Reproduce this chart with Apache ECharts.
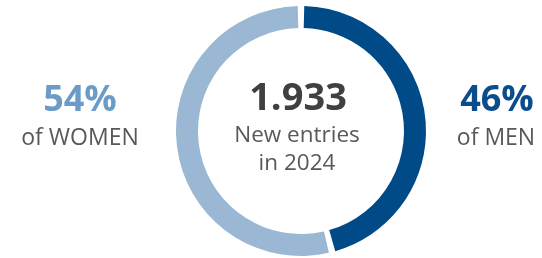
<!DOCTYPE html>
<html lang="en">
<head>
    <meta charset="UTF-8">
    <title>New entries 2024</title>
    <script src="https://cdn.jsdelivr.net/npm/echarts@6/dist/echarts.min.js"></script>
    <style>
        html, body { margin: 0; padding: 0; background: #fff; }
    </style>
</head>
<body>
<div id="main" style="width:542px;height:258px;"></div>
<script type="text/javascript">
    var groups = ['MEN', 'WOMEN'];
    var shares = [46, 54];
    var groupColors = ['#004b87', '#9ab8d3'];
    var labelColors = ['#0b4c8c', '#6b9bc6'];
    var totalEntries = '1.933';
    var totalCaption = ['New entries', 'in 2024'];

    var myChart = echarts.init(document.getElementById('main'), null, {renderer: 'canvas'});

    var pieData = groups.map(function (g, i) {
        return {name: g, value: shares[i], itemStyle: {color: groupColors[i]}};
    });

    var font = '"Open Sans", "Noto Sans", sans-serif';

    option = {
        animation: false,
        series: [
            {
                type: 'pie',
                center: [301, 131],
                radius: [103, 125],
                startAngle: 90,
                clockwise: true,
                padAngle: 3,
                silent: true,
                label: {show: false},
                labelLine: {show: false},
                data: pieData
            }
        ],
        graphic: [
            // centre figure
            {type: 'text', x: 298, y: 99, style: {text: totalEntries, fill: '#404040',
                font: 'bold 38px ' + font, align: 'center', verticalAlign: 'middle'}},
            {type: 'text', x: 297, y: 136, style: {text: totalCaption[0], fill: '#595959',
                font: '22.5px ' + font, align: 'center', verticalAlign: 'middle'}},
            {type: 'text', x: 297, y: 164, style: {text: totalCaption[1], fill: '#595959',
                font: '22.5px ' + font, align: 'center', verticalAlign: 'middle'}},
            // women, left
            {type: 'text', x: 80, y: 101, style: {text: shares[1] + '%', fill: labelColors[1],
                font: 'bold 36px ' + font, align: 'center', verticalAlign: 'middle'}},
            {type: 'text', x: 80, y: 138, style: {text: 'of ' + groups[1], fill: '#595959',
                font: '23px ' + font, align: 'center', verticalAlign: 'middle'}},
            // men, right
            {type: 'text', x: 497, y: 101, style: {text: shares[0] + '%', fill: labelColors[0],
                font: 'bold 36px ' + font, align: 'center', verticalAlign: 'middle'}},
            {type: 'text', x: 496, y: 138, style: {text: 'of ' + groups[0], fill: '#595959',
                font: '23px ' + font, align: 'center', verticalAlign: 'middle'}}
        ]
    };

    myChart.setOption(option);
</script>
</body>
</html>
